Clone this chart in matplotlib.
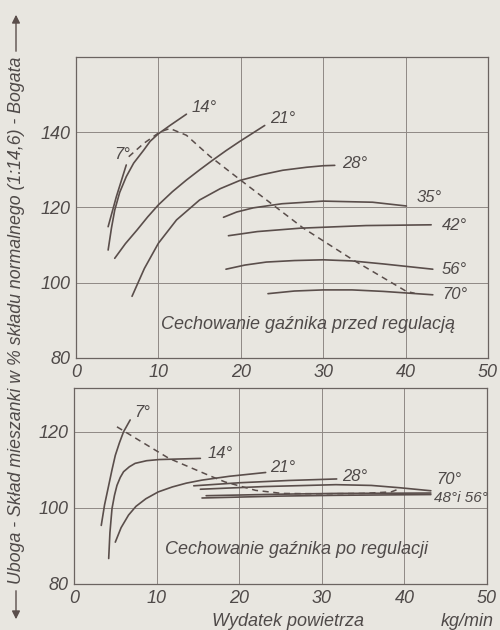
import matplotlib
matplotlib.use("Agg")
import matplotlib.pyplot as plt
from matplotlib.patches import FancyArrowPatch

W, H = 500, 630
BG = "#e8e6e0"
INK = "#5a4e4b"
GRID = "#8f8985"
TXT = "#4f4a49"

# top panel - before adjustment (x: kg/min, y: % of normal mixture)
top_7_x = [3.9, 4.9, 6.1]
top_7_y = [114.9, 122.9, 131.3]
top_14_x = [3.9, 4.3, 4.7, 5.3, 6.1, 7.0, 8.2, 9.0, 10.0, 11.4, 12.4, 13.4]
top_14_y = [108.7, 114.5, 119.3, 124.0, 128.2, 131.8, 135.2, 137.6, 139.6, 141.8, 143.3, 144.8]
top_21_x = [4.7, 6.0, 7.4, 8.7, 10.0, 11.7, 13.4, 15.0, 16.6, 18.2, 19.9, 22.9]
top_21_y = [106.5, 110.4, 114.0, 117.5, 120.7, 124.2, 127.3, 130.0, 132.6, 135.1, 137.6, 141.8]
top_28_x = [6.8, 8.3, 10.0, 12.2, 15.0, 17.5, 19.9, 22.5, 25.1, 28.0, 30.0, 31.4]
top_28_y = [96.4, 103.8, 110.5, 116.7, 122.0, 125.0, 127.2, 128.7, 129.9, 130.7, 131.1, 131.2]
top_35_x = [17.9, 19.5, 21.5, 25.0, 30.0, 36.0, 40.1]
top_35_y = [117.4, 118.8, 119.9, 121.0, 121.7, 121.4, 120.4]
top_42_x = [18.5, 22.0, 27.2, 35.2, 43.1]
top_42_y = [112.5, 113.6, 114.5, 115.2, 115.4]
top_56_x = [18.2, 20.5, 23.1, 26.5, 30.0, 33.5, 37.3, 43.3]
top_56_y = [103.6, 104.7, 105.5, 105.9, 106.1, 105.8, 105.0, 103.6]
top_70_x = [23.3, 26.5, 30.0, 33.5, 37.3, 43.3]
top_70_y = [97.1, 97.8, 98.1, 98.1, 97.7, 96.8]
top_dash_x = [6.4, 8.2, 10.2, 11.4, 13.4, 16.2, 19.9, 23.9, 27.6, 33.6, 40.1, 41.1]
top_dash_y = [133.5, 137.0, 140.1, 141.0, 139.2, 133.7, 127.4, 120.7, 114.5, 106.1, 97.7, 97.2]

# bottom panel - after adjustment
bot_7_x = [3.3, 3.7, 4.2, 4.6, 5.0, 5.5, 6.0, 6.8]
bot_7_y = [95.4, 100.8, 105.9, 110.0, 113.8, 117.1, 120.0, 123.1]
bot_14_x = [4.2, 4.35, 4.6, 4.9, 5.2, 5.6, 6.0, 6.7, 7.4, 8.8, 10.3, 15.3]
bot_14_y = [86.7, 93.5, 99.8, 103.3, 105.9, 108.0, 109.5, 110.8, 111.7, 112.4, 112.7, 113.0]
bot_21_x = [5.0, 5.7, 6.6, 7.5, 8.7, 10.2, 11.9, 13.6, 15.5, 18.8, 23.2]
bot_21_y = [91.0, 94.8, 98.1, 100.4, 102.4, 104.2, 105.5, 106.5, 107.3, 108.3, 109.3]
bot_28_x = [14.5, 20.0, 26.0, 31.8]
bot_28_y = [105.8, 106.6, 107.2, 107.6]
bot_70_x = [15.3, 23.0, 31.7, 36.0, 39.4, 43.2]
bot_70_y = [104.9, 105.6, 106.1, 105.9, 105.3, 104.5]
bot_48_x = [15.5, 25.0, 31.7, 43.2]
bot_48_y = [102.6, 103.1, 103.3, 103.5]
bot_56_x = [16.0, 25.0, 31.7, 43.2]
bot_56_y = [103.2, 103.6, 103.8, 103.9]
bot_dash_x = [5.2, 8.0, 11.5, 16.7, 18.3, 22.0, 25.2, 30.0, 34.9, 38.4, 39.5]
bot_dash_y = [121.3, 117.6, 113.0, 108.2, 106.8, 104.6, 103.8, 103.7, 103.8, 104.2, 105.1]

x_ticks = [0, 10, 20, 30, 40, 50]
top_y_ticks = [80, 100, 120, 140]
bot_y_ticks = [80, 100, 120]

FONT = ["Liberation Sans", "DejaVu Sans"]


def box(l, t, r, b):
    return [l / W, 1 - b / H, (r - l) / W, (b - t) / H]


def style_axes(ax, ylim, yticks):
    ax.set_facecolor(BG)
    ax.set_xlim(0, 50)
    ax.set_ylim(*ylim)
    ax.set_xticks(x_ticks)
    ax.set_yticks(yticks)
    ax.tick_params(length=0, pad=4, labelsize=13, labelcolor=TXT)
    for lab in ax.get_xticklabels() + ax.get_yticklabels():
        lab.set_fontstyle("italic")
        lab.set_family(FONT)
    ax.grid(True, color=GRID, lw=0.7)
    ax.set_axisbelow(True)
    for sp in ax.spines.values():
        sp.set_color("#6b6461")
        sp.set_linewidth(0.9)


def curve(ax, x, y, **kw):
    ax.plot(x, y, color=INK, lw=1.2, solid_capstyle="round",
            solid_joinstyle="round", **kw)


def label(ax, x, y, s, size=12):
    ax.text(x, y, s, fontsize=size, style="italic", color=TXT,
            family=FONT, ha="left", va="center")


fig = plt.figure(figsize=(W / 100, H / 100), dpi=100, facecolor=BG)

ax1 = fig.add_axes(box(76, 57, 488, 358))
style_axes(ax1, (80, 160), top_y_ticks)
for xs, ys in [(top_7_x, top_7_y), (top_14_x, top_14_y), (top_21_x, top_21_y),
               (top_28_x, top_28_y), (top_35_x, top_35_y), (top_42_x, top_42_y),
               (top_56_x, top_56_y), (top_70_x, top_70_y)]:
    curve(ax1, xs, ys)
ax1.plot(top_dash_x, top_dash_y, color=INK, lw=1.1, ls=(0, (4, 3)))
label(ax1, 4.7, 134.0, "7°")
label(ax1, 14.0, 146.6, "14°")
label(ax1, 23.5, 143.6, "21°")
label(ax1, 32.3, 131.8, "28°")
label(ax1, 41.3, 122.6, "35°")
label(ax1, 44.4, 115.2, "42°")
label(ax1, 44.4, 103.6, "56°")
label(ax1, 44.4, 96.9, "70°")
ax1.text(28.2, 89.0, "Cechowanie gaźnika przed regulacją", fontsize=13,
         style="italic", color=TXT, family=FONT, ha="center", va="center")

ax2 = fig.add_axes(box(74, 388, 487, 584))
style_axes(ax2, (80, 131.5), bot_y_ticks)
for xs, ys in [(bot_7_x, bot_7_y), (bot_14_x, bot_14_y), (bot_21_x, bot_21_y),
               (bot_28_x, bot_28_y), (bot_70_x, bot_70_y), (bot_48_x, bot_48_y),
               (bot_56_x, bot_56_y)]:
    curve(ax2, xs, ys)
ax2.plot(bot_dash_x, bot_dash_y, color=INK, lw=1.1, ls=(0, (4, 3)))
label(ax2, 7.3, 125.0, "7°")
label(ax2, 16.2, 114.3, "14°")
label(ax2, 23.8, 110.6, "21°")
label(ax2, 32.5, 108.3, "28°")
label(ax2, 43.8, 107.4, "70°")
label(ax2, 43.6, 102.6, "48°i 56°", size=11)
ax2.text(26.9, 89.0, "Cechowanie gaźnika po regulacji", fontsize=13,
         style="italic", color=TXT, family=FONT, ha="center", va="center")

# axis captions
fig.text(288 / W, 1 - 621 / H, "Wydatek powietrza", fontsize=13, style="italic",
         color=TXT, family=FONT, ha="center", va="center")
fig.text(467 / W, 1 - 621 / H, "kg/min", fontsize=13, style="italic",
         color=TXT, family=FONT, ha="center", va="center")
fig.text(17 / W, 1 - 320 / H,
         "Uboga - Skład mieszanki w % składu normalnego (1:14,6) - Bogata",
         fontsize=12.8, style="italic", color=TXT, family=FONT,
         rotation=90, ha="center", va="center")

arrow = dict(arrowstyle="-|>", color=INK, lw=1.0, mutation_scale=12)
fig.add_artist(FancyArrowPatch((16 / W, 1 - 54 / H), (16 / W, 1 - 12 / H),
                               transform=fig.transFigure, **arrow))
fig.add_artist(FancyArrowPatch((16 / W, 1 - 588 / H), (16 / W, 1 - 622 / H),
                               transform=fig.transFigure, **arrow))

fig.savefig("out.png", dpi=100, facecolor=BG)
